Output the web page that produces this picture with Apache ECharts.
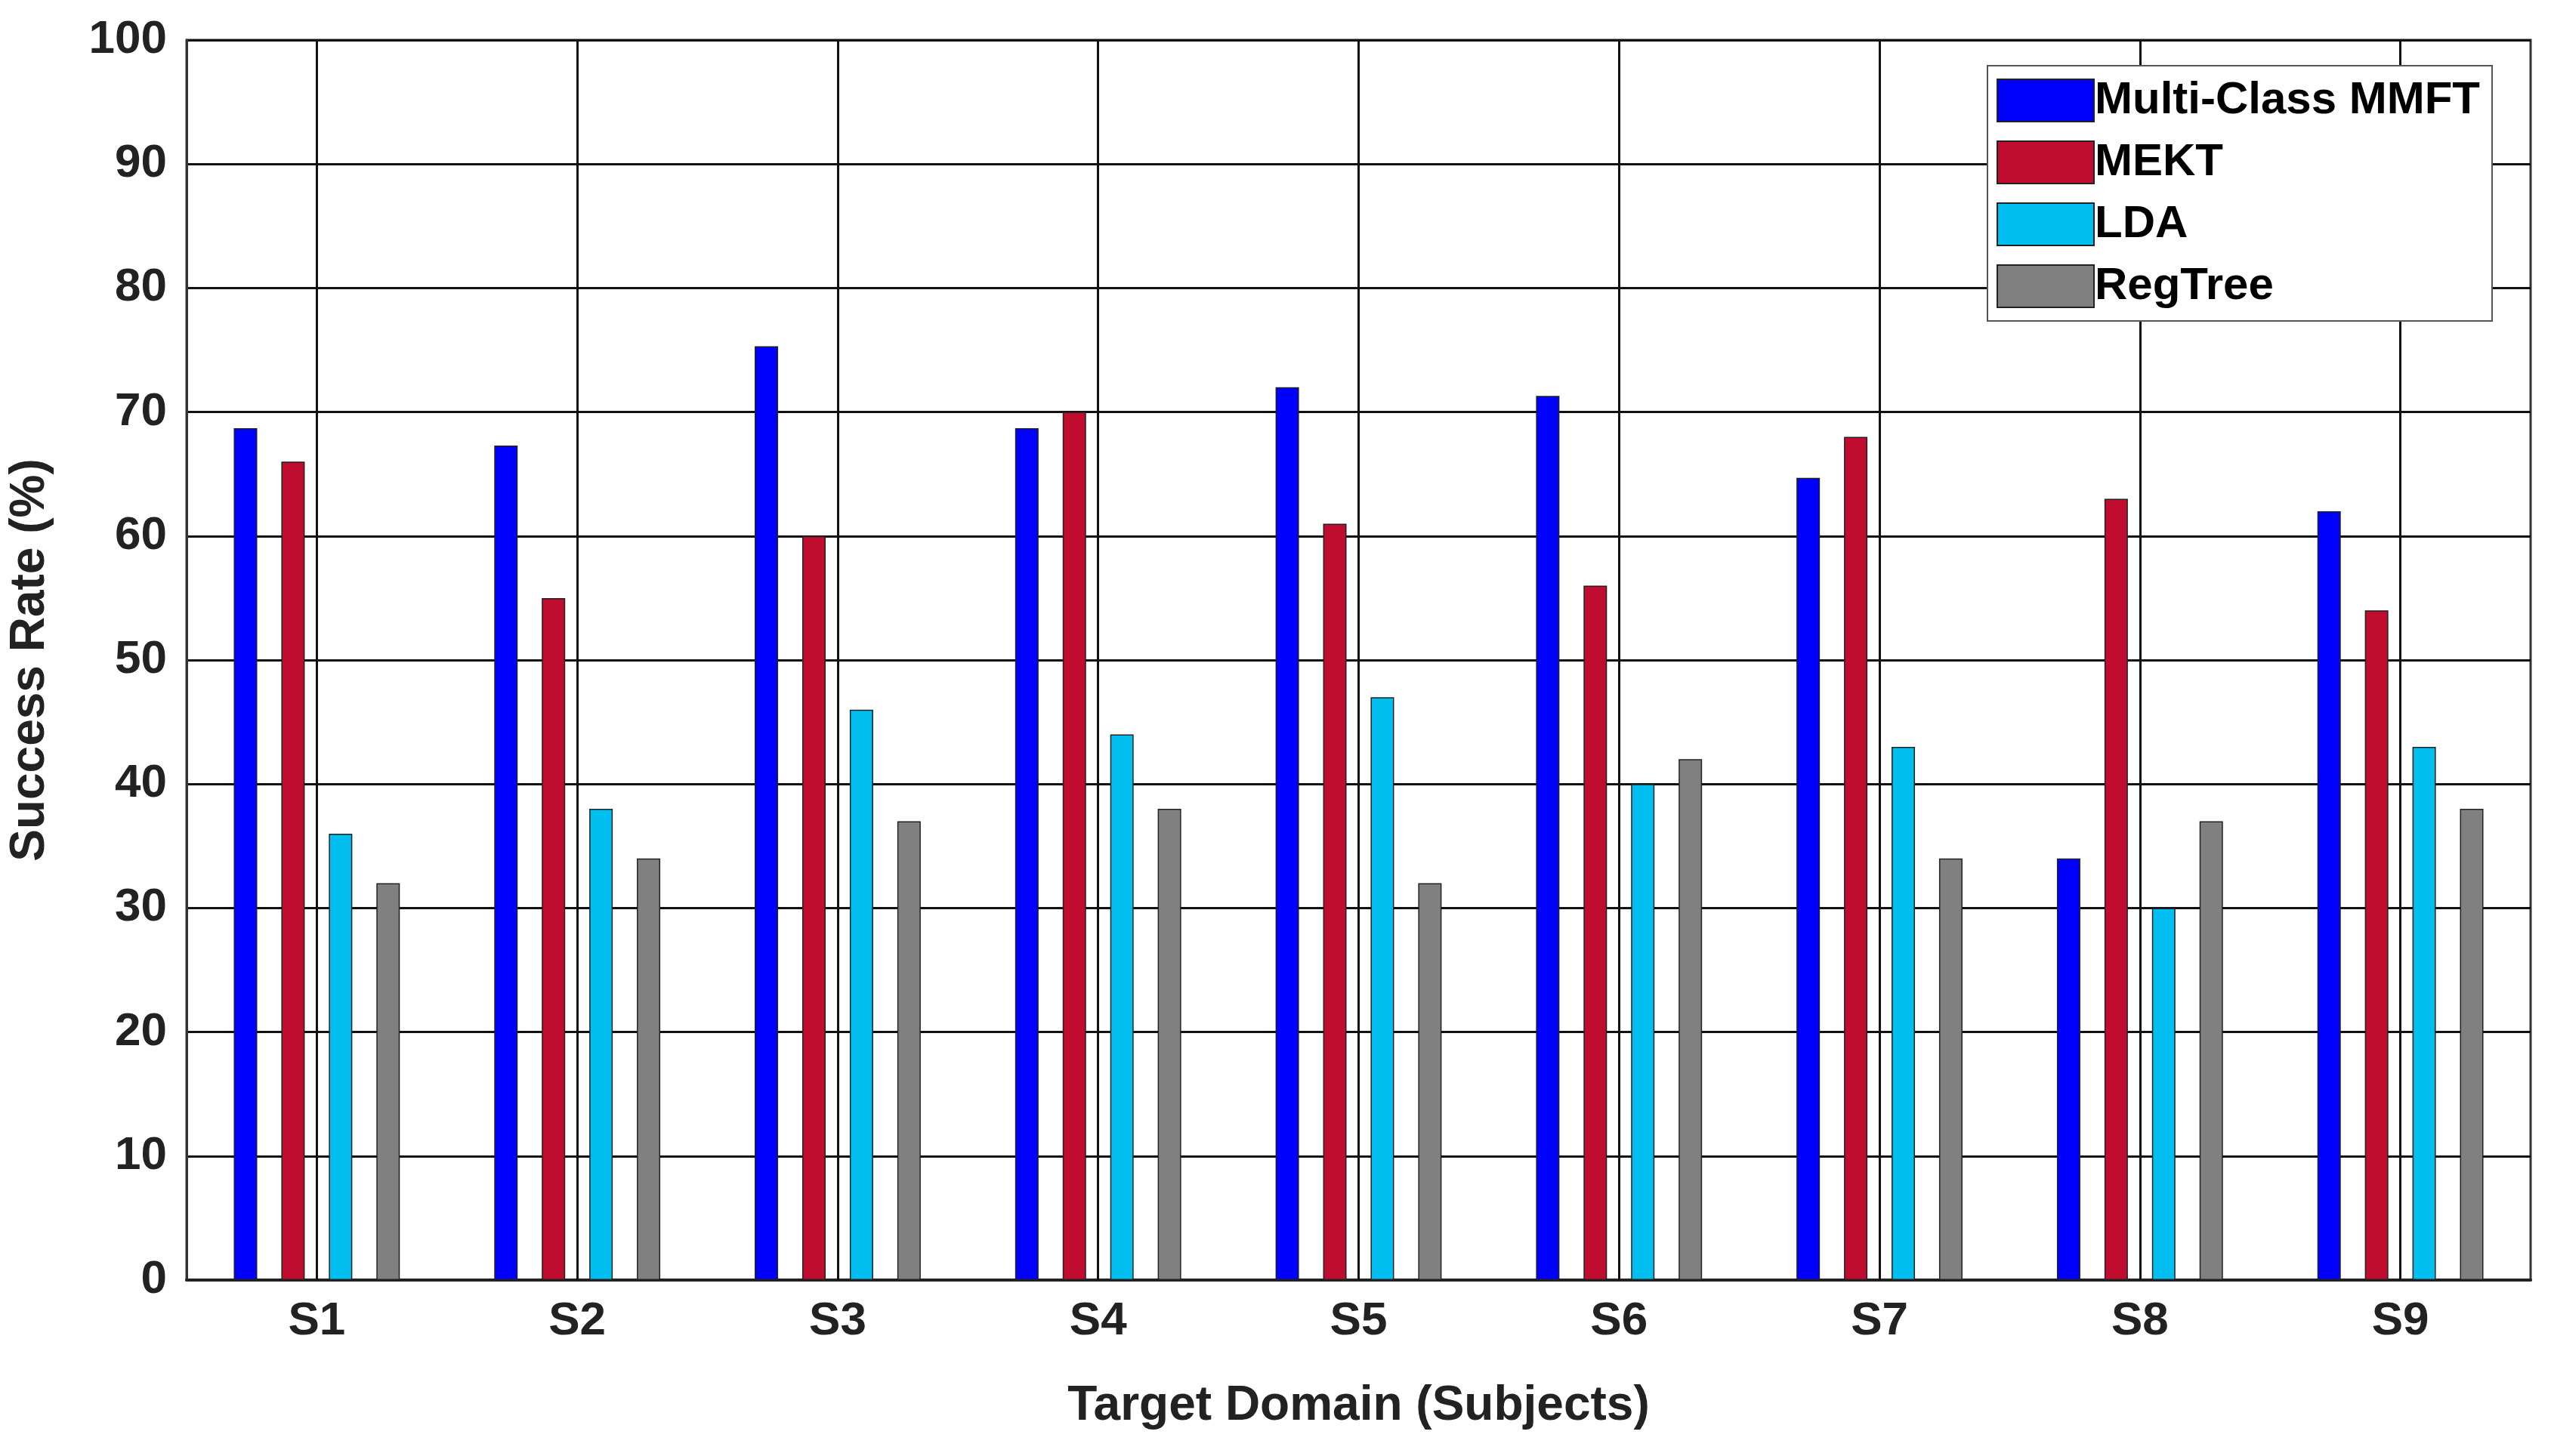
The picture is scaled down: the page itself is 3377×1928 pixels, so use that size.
<!DOCTYPE html>
<html><head><meta charset="utf-8">
<script src="https://cdn.jsdelivr.net/npm/echarts@6/dist/echarts.min.js"></script>
<style>html,body{margin:0;padding:0;background:#fff}#c{width:3377px;height:1928px}</style>
</head><body><div id="c"></div>
<script>
const categories = ['S1','S2','S3','S4','S5','S6','S7','S8','S9'];
const seriesNames = ['Multi-Class MMFT','MEKT','LDA','RegTree'];
const mmft = [68.7,67.3,75.3,68.7,72,71.3,64.7,34,62];
const mekt = [66,55,60,70,61,56,68,63,54];
const lda = [36,38,46,44,47,40,43,30,43];
const regTree = [32,34,37,38,32,42,34,37,38];
const colors = ['#0000ff','#c00c2e','#00bff0','#808080'];
const values = [mmft, mekt, lda, regTree];
const font = 'Liberation Sans';
const chart = echarts.init(document.getElementById('c'));
const series = seriesNames.map((n,i)=>({
  name:n, type:'bar', data:values[i], barWidth:31, barGap:'103%', z:3,
  itemStyle:{color:colors[i], borderColor:'#222', borderWidth:1.5}
}));
series.push({type:'line', data:[], z:1, silent:true,
  markLine:{silent:true, symbol:'none', label:{show:false},
    lineStyle:{color:'#111', width:3, type:'solid'},
    data:categories.map(c=>({xAxis:c}))}});
chart.setOption({
  animation:false,
  backgroundColor:'#fff',
  grid:{left:243, right:27, top:53, bottom:233, show:true, borderColor:'#333', borderWidth:3, backgroundColor:'transparent'},
  legend:{left:2631, top:87, orient:'vertical', itemWidth:128, itemHeight:56, itemGap:22,
    padding:[16,16,16,12], backgroundColor:'#fff', borderColor:'#555', borderWidth:2,
    textStyle:{fontFamily:font, fontWeight:'bold', fontSize:60, color:'#000', padding:[0,0,0,-4]},
    data:seriesNames, icon:'rect', z:10,
    itemStyle:{borderColor:'#222', borderWidth:2}},
  xAxis:{type:'category', data:categories,
    name:'Target Domain (Subjects)', nameLocation:'middle', nameGap:135,
    nameTextStyle:{fontFamily:font, fontWeight:'bold', fontSize:64, color:'#222'},
    axisLine:{lineStyle:{color:'#222', width:4}}, axisTick:{show:false},
    axisLabel:{fontFamily:font, fontWeight:'bold', fontSize:62, color:'#222', margin:24},
    splitLine:{show:false}},
  yAxis:{type:'value', min:0, max:100, interval:10,
    name:'Success Rate (%)', nameLocation:'middle', nameGap:175,
    nameTextStyle:{fontFamily:font, fontWeight:'bold', fontSize:64, color:'#222'},
    axisLine:{show:true, lineStyle:{color:'#333', width:3}}, axisTick:{show:false},
    axisLabel:{fontFamily:font, fontWeight:'bold', fontSize:62, color:'#222', margin:26},
    splitLine:{lineStyle:{color:'#111', width:3}}},
  series:series
});
</script></body></html>
